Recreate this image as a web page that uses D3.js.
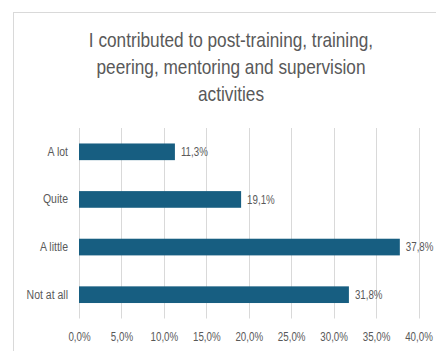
<!DOCTYPE html>
<html>
<head>
<meta charset="utf-8">
<script src="https://cdn.jsdelivr.net/npm/d3@7"></script>
<style>
  html, body { margin: 0; padding: 0; background: #fff; }
  svg { display: block; }
  text { font-family: "Liberation Sans Narrow", "Arial Narrow", "Liberation Sans", sans-serif; }
</style>
</head>
<body>
<div id="chart"></div>
<script>
// Survey responses: share of respondents per answer
const categories = ["A lot", "Quite", "A little", "Not at all"];
const values = [11.3, 19.1, 37.8, 31.8];
const tickValues = [0, 5, 10, 15, 20, 25, 30, 35, 40];
const titleLines = [
  "I contributed to post-training, training,",
  "peering, mentoring and supervision",
  "activities"
];

const W = 436, H = 351;
const margin = { left: 79, right: 18, top: 128, bottom: 33 };
const fmt = v => v.toFixed(1).replace(".", ",") + "%";

// squeeze text horizontally to get a condensed face
function condense(sel, k) {
  sel.each(function () {
    const len = this.getComputedTextLength();
    d3.select(this).attr("textLength", len * k).attr("lengthAdjust", "spacingAndGlyphs");
  });
}

const svg = d3.select("#chart").append("svg")
  .attr("width", W).attr("height", H);

// chart frame
svg.append("rect")
  .attr("x", 13.5).attr("y", 12.5)
  .attr("width", W + 10).attr("height", H + 10)
  .attr("fill", "#fff").attr("stroke", "#d9d9d9").attr("stroke-width", 1);

// title
svg.append("g").selectAll("text").data(titleLines).join("text")
  .attr("x", 231).attr("y", (d, i) => 46.5 + i * 27)
  .attr("text-anchor", "middle")
  .attr("font-size", 21)
  .attr("fill", "#595959")
  .text(d => d)
  .call(condense, 0.82);

const x = d3.scaleLinear().domain([0, 40]).range([margin.left, 418.5]);
const y = d3.scaleBand().domain(categories)
  .range([margin.top, 318.5]).paddingInner(0.65).paddingOuter(0.325);

// vertical gridlines
svg.append("g").selectAll("line").data(tickValues).join("line")
  .attr("x1", d => Math.round(x(d)) + 0.5).attr("x2", d => Math.round(x(d)) + 0.5)
  .attr("y1", margin.top).attr("y2", 318.5)
  .attr("stroke", "#d9d9d9").attr("stroke-width", 1);

// x axis labels
const xAxis = d3.axisBottom(x).tickValues(tickValues).tickSize(0).tickPadding(0)
  .tickFormat(d => d.toFixed(1).replace(".", ",") + "%");
const gx = svg.append("g").attr("transform", "translate(0,332)").call(xAxis);
gx.select(".domain").remove();
gx.selectAll("text").attr("font-size", 12.5).attr("fill", "#595959")
  .attr("font-family", null).attr("dy", "0.71em")
  .call(condense, 0.78);

// y axis labels
const yAxis = d3.axisLeft(y).tickSize(0).tickPadding(11);
const gy = svg.append("g").attr("transform", `translate(${margin.left},0)`).call(yAxis);
gy.select(".domain").remove();
gy.selectAll("text").attr("font-size", 12.5).attr("fill", "#595959")
  .attr("font-family", null)
  .call(condense, 0.84);

// bars
svg.append("g").selectAll("rect").data(values).join("rect")
  .attr("x", x(0))
  .attr("y", (d, i) => y(categories[i]))
  .attr("width", d => x(d) - x(0))
  .attr("height", y.bandwidth())
  .attr("fill", "#175e81");

// value labels
svg.append("g").selectAll("text").data(values).join("text")
  .attr("x", d => x(d) + 6)
  .attr("y", (d, i) => y(categories[i]) + y.bandwidth() / 2)
  .attr("dy", "0.35em")
  .attr("font-size", 12.5)
  .attr("fill", "#595959")
  .text(d => fmt(d))
  .call(condense, 0.78);
</script>
</body>
</html>
